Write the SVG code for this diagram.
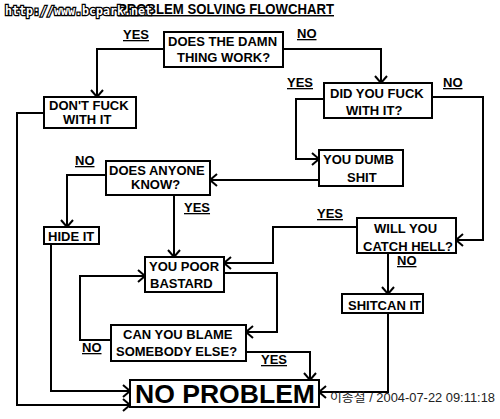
<svg xmlns="http://www.w3.org/2000/svg" width="500" height="419" viewBox="0 0 500 419">
<defs>
<marker id="arr" markerUnits="userSpaceOnUse" markerWidth="14" markerHeight="14" refX="8" refY="7" orient="auto" overflow="visible">
<path d="M1,1 L8,7 L1,13" fill="none" stroke="#000" stroke-width="2"/>
</marker>
<style>
.box{fill:#fff;stroke:#000;stroke-width:2}
.t{font-family:"Liberation Sans",Arial,sans-serif;font-weight:bold;font-size:13px;fill:#000}
.lbl{font-family:"Liberation Sans",Arial,sans-serif;font-weight:bold;font-size:13px;fill:#000;text-decoration:underline}
.c{fill:none;stroke:#000;stroke-width:2;marker-end:url(#arr)}
</style>
</defs>
<rect width="500" height="419" fill="#fff"/>
<text x="118" y="14" class="lbl" style="font-size:14.5px" textLength="216" lengthAdjust="spacingAndGlyphs">PROBLEM SOLVING FLOWCHART</text>
<text x="5" y="15" font-family="DejaVu Sans Mono,monospace" font-weight="bold" font-size="12" fill="#fff" stroke="#000" stroke-width="2.5" paint-order="stroke" textLength="147" lengthAdjust="spacingAndGlyphs">http://www.bcpark.net</text>

<g id="connectors">
<polyline class="c" points="164,49 97,49 97,97"/>
<polyline class="c" points="283,49 381,49 381,83"/>
<polyline class="c" points="324,99 296,99 296,159 319,159"/>
<polyline class="c" points="432,97 483,97 483,240 456,240"/>
<polyline class="c" points="319,180 210,180"/>
<polyline class="c" points="106,175 67,175 67,227"/>
<polyline class="c" points="174,195 174,257"/>
<polyline class="c" points="357,227 273,227 273,263 224,263"/>
<polyline class="c" points="388,253 388,294"/>
<polyline class="c" points="388,313 388,392 319,392"/>
<polyline class="c" points="224,273 277,273 277,332 246,332"/>
<polyline class="c" points="111,340 80,340 80,276 145,276"/>
<polyline class="c" points="246,352 310,352 310,380"/>
<polyline class="c" points="44,113 17,113 17,405 130,405"/>
<polyline class="c" points="51,244 51,391 130,391"/>
</g>

<g id="labels">
<text class="lbl" x="123" y="39">YES</text>
<text class="lbl" x="297" y="38">NO</text>
<text class="lbl" x="287" y="87">YES</text>
<text class="lbl" x="443" y="87">NO</text>
<text class="lbl" x="75" y="165">NO</text>
<text class="lbl" x="184" y="212">YES</text>
<text class="lbl" x="317" y="218">YES</text>
<text class="lbl" x="397" y="265">NO</text>
<text class="lbl" x="82" y="352">NO</text>
<text class="lbl" x="261" y="364">YES</text>
</g>

<g id="n-work">
<rect class="box" x="164" y="32" width="119" height="35"/>
<text class="t" x="168" y="46">DOES THE DAMN</text>
<text class="t" x="177" y="62">THING WORK?</text>
</g>
<g id="n-dontfuck">
<rect class="box" x="44" y="97" width="92" height="31"/>
<text class="t" x="49" y="109.5">DON'T FUCK</text>
<text class="t" x="63" y="124">WITH IT</text>
</g>
<g id="n-didyou">
<rect class="box" x="324" y="83" width="108" height="35"/>
<text class="t" x="330" y="97.5">DID YOU FUCK</text>
<text class="t" x="346" y="115">WITH IT?</text>
</g>
<g id="n-dumb">
<rect class="box" x="319" y="150" width="84" height="36"/>
<text class="t" x="323" y="164">YOU DUMB</text>
<text class="t" x="347" y="181.5">SHIT</text>
</g>
<g id="n-anyone">
<rect class="box" x="106" y="161" width="104" height="34"/>
<text class="t" x="109" y="175">DOES ANYONE</text>
<text class="t" x="131" y="189">KNOW?</text>
</g>
<g id="n-hide">
<rect class="box" x="44" y="227" width="55" height="17"/>
<text class="t" x="48" y="240.5">HIDE IT</text>
</g>
<g id="n-hell">
<rect class="box" x="357" y="218" width="99" height="35"/>
<text class="t" x="374" y="233">WILL YOU</text>
<text class="t" x="363" y="250.5">CATCH HELL?</text>
</g>
<g id="n-shitcan">
<rect class="box" x="342" y="294" width="81" height="19"/>
<text class="t" x="348" y="309.5">SHITCAN IT</text>
</g>
<g id="n-poor">
<rect class="box" x="145" y="257" width="79" height="35"/>
<text class="t" x="149" y="270.7">YOU POOR</text>
<text class="t" x="150" y="288">BASTARD</text>
</g>
<g id="n-blame">
<rect class="box" x="111" y="325" width="135" height="36"/>
<text class="t" x="123" y="339">CAN YOU BLAME</text>
<text class="t" x="116" y="356">SOMEBODY ELSE?</text>
</g>
<g id="n-noproblem">
<rect class="box" x="130" y="380" width="189" height="27"/>
<text class="t" x="135" y="402.5" style="font-size:25px" textLength="180" lengthAdjust="spacingAndGlyphs">NO PROBLEM</text>
</g>
<text x="330" y="402" font-family="'Liberation Sans','Noto Sans CJK KR',sans-serif" font-size="12" fill="#222" textLength="165" lengthAdjust="spacingAndGlyphs">이종철 / 2004-07-22 09:11:18</text>
</svg>
